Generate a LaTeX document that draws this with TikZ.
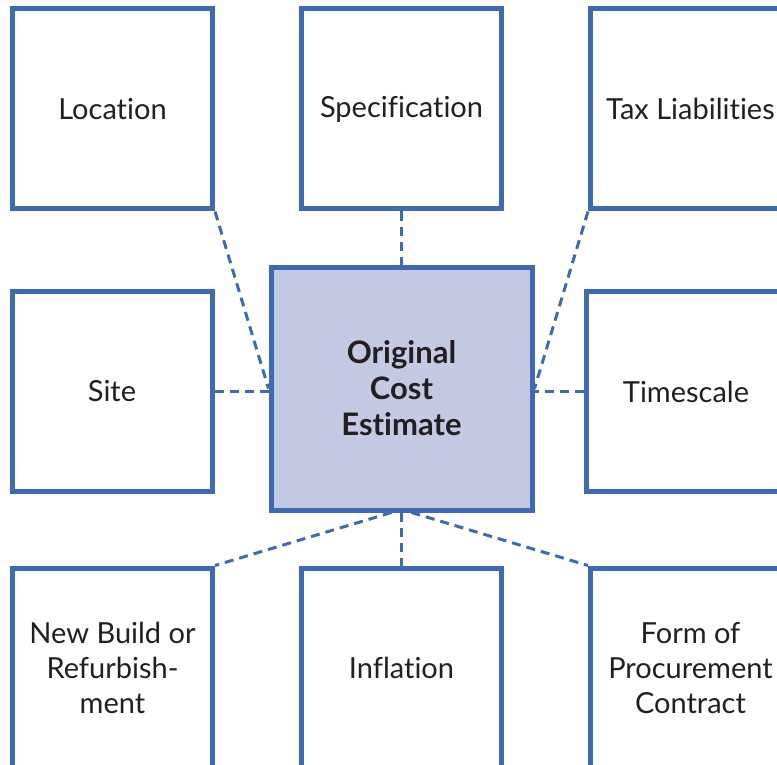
\documentclass[tikz,border=0pt]{standalone}
\usepackage{fontspec}
\setmainfont[Ligatures=NoCommon]{Lato}
\usetikzlibrary{positioning}
\definecolor{boxblue}{RGB}{62,106,178}
\definecolor{boxfill}{RGB}{197,202,228}
\definecolor{txtgrey}{RGB}{35,31,32}

\begin{document}
\begin{tikzpicture}[x=0.5pt,y=0.5pt,node distance=26.5pt and 42pt,
box/.style={draw=boxblue,line width=2.5pt,minimum size=100pt,align=center,text=txtgrey,inner sep=2pt,font=\fontsize{14.5}{17.5}\selectfont},
hub/.style={box,fill=boxfill,minimum width=130.5pt,minimum height=121.5pt,font=\bfseries\fontsize{15.5}{18}\selectfont},
link/.style={draw=boxblue,line width=1.5pt,dash pattern=on 4.5pt off 3pt}]
\useasboundingbox (0,0) rectangle (777,-765);
\clip (0,0) rectangle (777,-765);
\node[hub] (cost) at (401.5,-388.5) {Original\\Cost\\Estimate};
\node[box,above=of cost] (spec) {Specification};
\node[box,left=of spec] (loc) {Location};
\node[box,right=of spec] (tax) {Tax Liabilities};
\node[box,left=27pt of cost,yshift=-1.5pt] (site) {Site};
\node[box,right=24.5pt of cost,yshift=-1.5pt] (time) {Timescale};
\node[box,below=of cost] (infl) {Inflation};
\node[box,left=of infl] (build) {New Build or\\Refurbish-\\ment};
\node[box,right=of infl] (proc) {Form of\\Procurement\\Contract};
\draw[link] (loc.south east) -- (cost.west);
\draw[link] (spec) -- (cost);
\draw[link] (tax.south west) -- (cost.east);
\draw[link] (site) -- (site -| cost.west);
\draw[link] (time) -- (time -| cost.east);
\draw[link] ([xshift=-5pt]cost.south) -- (build.north east);
\draw[link] (cost) -- (infl);
\draw[link] ([xshift=5pt]cost.south) -- (proc.north west);
\end{tikzpicture}
\end{document}
